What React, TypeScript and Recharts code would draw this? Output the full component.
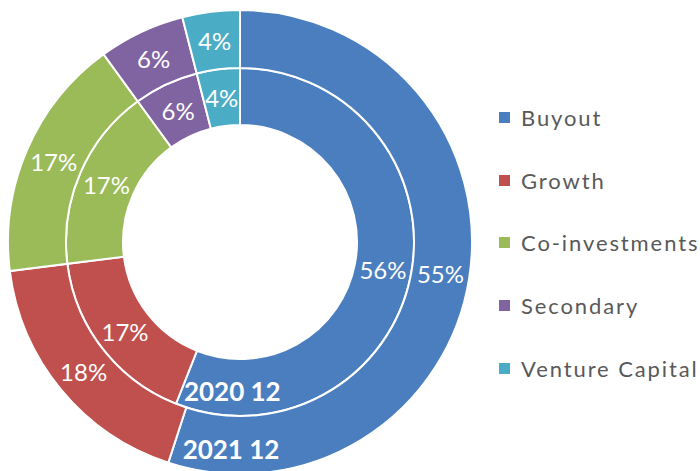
import React from "react";
import { PieChart, Pie, Cell, Legend } from "recharts";

document.body.style.margin = "0";

const categories = ["Buyout", "Growth", "Co-investments", "Secondary", "Venture Capital"];
const colors = ["#4A7EBF", "#C0504D", "#9BBB59", "#8064A2", "#4BACC6"];
const values2020 = [56, 17, 17, 6, 4];
const values2021 = [55, 18, 17, 6, 4];
const ringNames = ["2020 12", "2021 12"];

const RAD = Math.PI / 180;
const FONT = "Lato, 'Open Sans', sans-serif";

const inner = categories.map((name, i) => ({ name, value: values2020[i] }));
const outer = categories.map((name, i) => ({ name, value: values2021[i] }));

function makeLabel(ringName: string, dx: number) {
  return (props: any) => {
    const { cx, cy, midAngle, innerRadius, outerRadius, value, index, endAngle } = props;
    const r = (innerRadius + outerRadius) / 2;
    const x = cx + r * Math.cos(-midAngle * RAD);
    const y = cy + r * Math.sin(-midAngle * RAD);
    const pct = (
      <text
        x={x}
        y={y}
        fill="#fff"
        fontFamily={FONT}
        fontSize={24}
        textAnchor="middle"
        dominantBaseline="central"
      >
        {value}%
      </text>
    );
    if (index !== 0) return pct;
    // ring name sits just past the end of the first slice
    const rn = r + 15;
    const nx = cx + rn * Math.cos(-endAngle * RAD) + dx;
    const ny = cy + rn * Math.sin(-endAngle * RAD);
    return (
      <g>
        {pct}
        <text
          x={nx}
          y={ny}
          fill="#fff"
          fontFamily={FONT}
          fontWeight="bold"
          fontSize={26}
          textAnchor="start"
          dominantBaseline="central"
        >
          {ringName}
        </text>
      </g>
    );
  };
}

function LegendBox() {
  return (
    <div style={{ fontFamily: FONT }}>
      {categories.map((c, i) => (
        <div
          key={c}
          style={{ height: 62.75, display: "flex", alignItems: "center", whiteSpace: "nowrap" }}
        >
          <span
            style={{ display: "inline-block", width: 11, height: 11, background: colors[i], marginRight: 11 }}
          />
          <span style={{ fontSize: 22, color: "#595959", letterSpacing: 1.9 }}>{c}</span>
        </div>
      ))}
    </div>
  );
}

export default function App() {
  return (
    <div style={{ width: 700, height: 471, background: "#fff", overflow: "hidden" }}>
      <PieChart width={700} height={471} margin={{ top: 0, right: 0, bottom: 0, left: 0 }}>
        <Pie
          data={inner}
          dataKey="value"
          nameKey="name"
          cx={240}
          cy={242}
          innerRadius={117}
          outerRadius={174}
          startAngle={90}
          endAngle={-270}
          stroke="#fff"
          strokeWidth={2}
          labelLine={false}
          label={makeLabel(ringNames[0], 3)}
          isAnimationActive={false}
        >
          {inner.map((d, i) => (
            <Cell key={d.name} fill={colors[i]} />
          ))}
        </Pie>
        <Pie
          data={outer}
          dataKey="value"
          nameKey="name"
          cx={240}
          cy={242}
          innerRadius={174}
          outerRadius={232}
          startAngle={90}
          endAngle={-270}
          stroke="#fff"
          strokeWidth={2}
          labelLine={false}
          label={makeLabel(ringNames[1], 10)}
          isAnimationActive={false}
        >
          {outer.map((d, i) => (
            <Cell key={d.name} fill={colors[i]} />
          ))}
        </Pie>
        <Legend
          content={() => <LegendBox />}
          wrapperStyle={{ position: "absolute", left: 499, top: 86, width: 210 }}
        />
      </PieChart>
    </div>
  );
}
